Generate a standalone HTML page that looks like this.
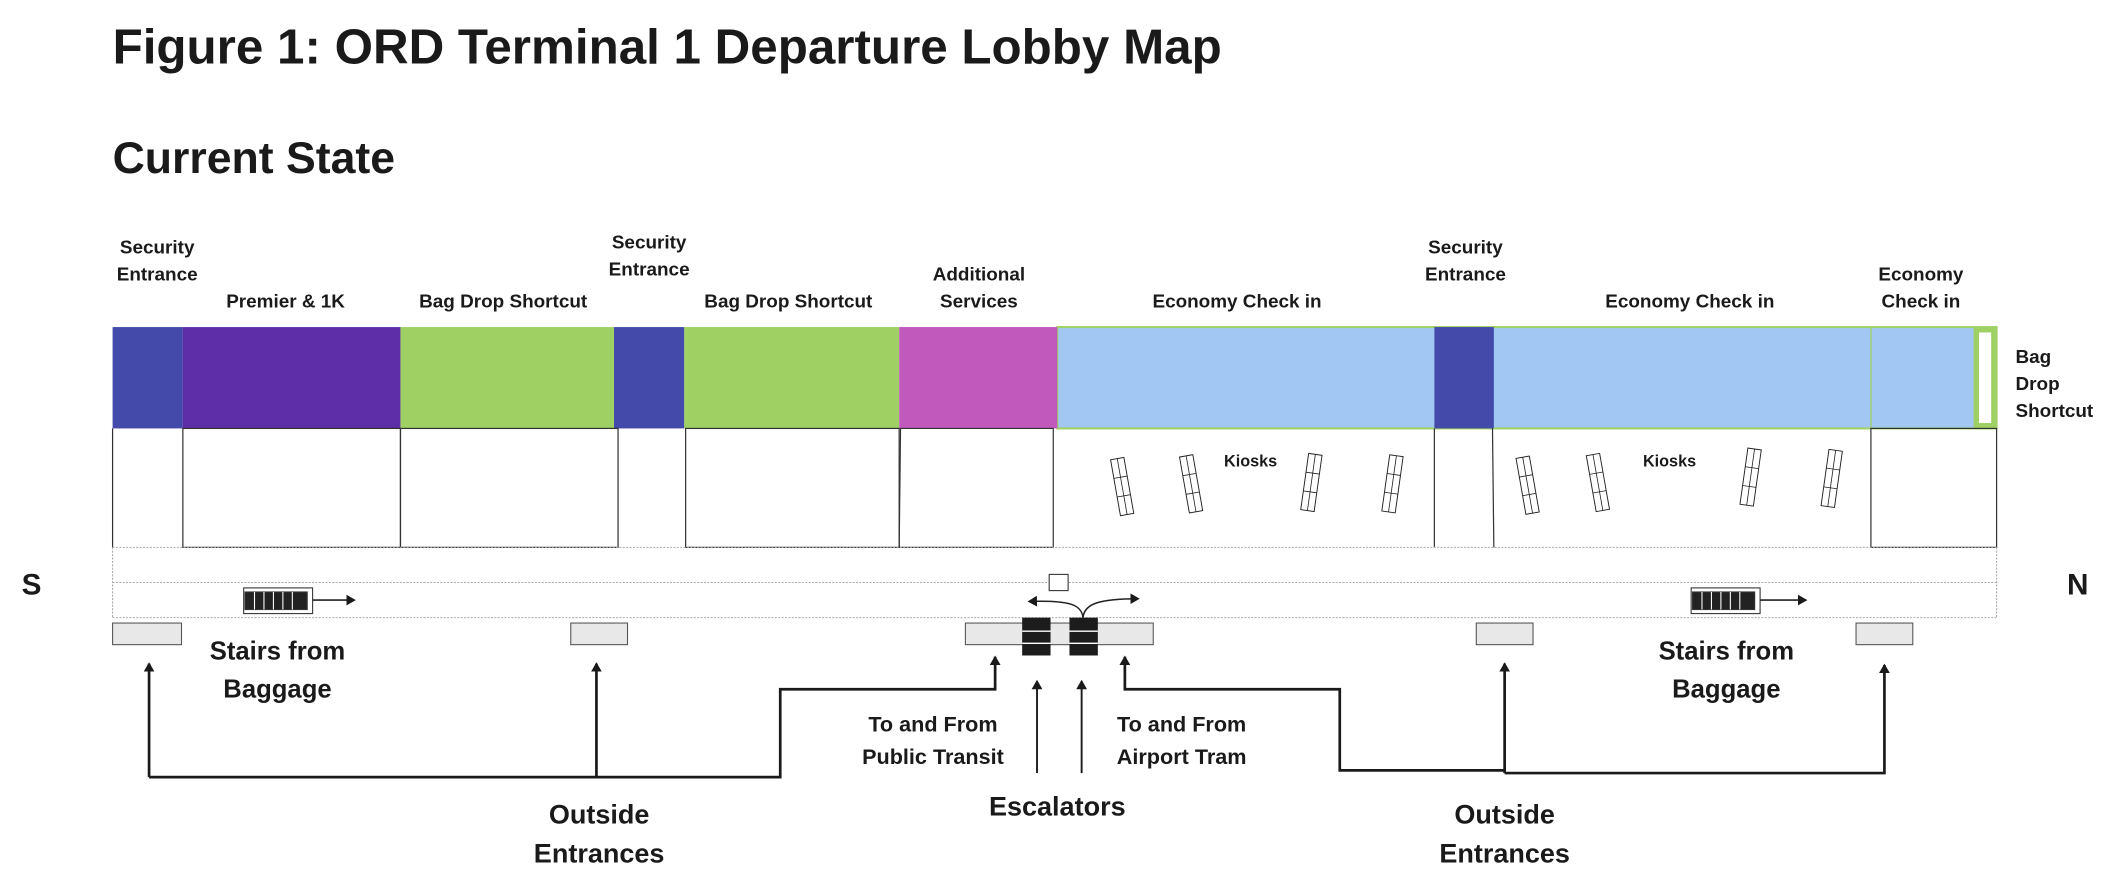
<!DOCTYPE html>
<html><head><meta charset="utf-8"><style>html,body{margin:0;padding:0;background:#fff}svg{display:block}</style></head><body>
<svg width="2120" height="892" viewBox="0 0 1568 660" xmlns="http://www.w3.org/2000/svg" font-family="Liberation Sans, sans-serif" font-weight="bold" fill="#1a1a1a">
<defs>
<marker id="ah" markerWidth="8" markerHeight="8" refX="6" refY="4" orient="auto-start-reverse" markerUnits="userSpaceOnUse"><path d="M0,0 L7,4 L0,8 Z" fill="#1a1a1a"/></marker>
<g id="kiosk"><rect x="-5" y="-21" width="10" height="42" fill="#fff" stroke="#222" stroke-width="0.7"/><line x1="0" y1="-21" x2="0" y2="21" stroke="#222" stroke-width="0.6"/><line x1="-5" y1="-7" x2="5" y2="-7" stroke="#222" stroke-width="0.6"/><line x1="-5" y1="7" x2="5" y2="7" stroke="#222" stroke-width="0.6"/></g>
</defs>
<text x="83" y="47" font-size="36.5">Figure 1: ORD Terminal 1 Departure Lobby Map</text>
<text x="83" y="128" font-size="33">Current State</text>
<g font-size="14" text-anchor="middle" dominant-baseline="middle">
<text x="116" y="184">Security</text><text x="116" y="204">Entrance</text>
<text x="211" y="224">Premier &amp; 1K</text>
<text x="372" y="224">Bag Drop Shortcut</text>
<text x="480" y="180">Security</text><text x="480" y="200">Entrance</text>
<text x="583" y="224">Bag Drop Shortcut</text>
<text x="724" y="204">Additional</text><text x="724" y="224">Services</text>
<text x="915" y="224">Economy Check in</text>
<text x="1084" y="184">Security</text><text x="1084" y="204">Entrance</text>
<text x="1250" y="224">Economy Check in</text>
<text x="1421" y="204">Economy</text><text x="1421" y="224">Check in</text>
<text x="1491" y="265" text-anchor="start">Bag</text><text x="1491" y="285" text-anchor="start">Drop</text><text x="1491" y="305" text-anchor="start">Shortcut</text>
</g>
<rect x="782" y="242" width="695" height="75" fill="#a2c7f2" stroke="#9fd064" stroke-width="1.5"/>
<rect x="83" y="242" width="52" height="75" fill="#434aa9"/>
<rect x="135" y="242" width="161" height="75" fill="#5e2ea9"/>
<rect x="296" y="242" width="158" height="75" fill="#9fd064"/>
<rect x="454" y="242" width="52" height="75" fill="#434aa9"/>
<rect x="506" y="242" width="159" height="75" fill="#9fd064"/>
<rect x="665" y="242" width="117" height="75" fill="#c158bc"/>
<rect x="1061" y="242" width="44" height="75" fill="#434aa9"/>
<line x1="1384" y1="242" x2="1384" y2="317" stroke="#9fd064" stroke-width="1"/>
<rect x="1462" y="244" width="13" height="71" fill="#fff" stroke="#9fd064" stroke-width="4"/>
<g fill="none" stroke="#333" stroke-width="0.9">
<rect x="135" y="317" width="161" height="88"/><rect x="296" y="317" width="161" height="88"/>
<rect x="507" y="317" width="158" height="88"/>
<path d="M666,317 L779,317 L779,405 L665,405 Z"/>
<rect x="1384" y="317" width="93" height="88"/>
<line x1="83" y1="317" x2="83" y2="405"/>
<line x1="1061" y1="317" x2="1061" y2="405"/><line x1="1104" y1="317" x2="1105" y2="405"/>
</g>
<g fill="none" stroke="#aaa" stroke-width="0.8" stroke-dasharray="1.5,1">
<line x1="83" y1="405" x2="1477" y2="405"/><line x1="83" y1="431" x2="1477" y2="431"/><line x1="83" y1="457" x2="1477" y2="457"/>
<line x1="83" y1="405" x2="83" y2="457"/><line x1="1477" y1="405" x2="1477" y2="457"/>
</g>
<text x="23" y="440" font-size="22" text-anchor="middle">S</text>
<text x="1537" y="440" font-size="22" text-anchor="middle">N</text>
<g font-size="12" text-anchor="middle"><text x="925" y="345">Kiosks</text><text x="1235" y="345">Kiosks</text></g>
<use href="#kiosk" transform="translate(830,360) rotate(-10)"/>
<use href="#kiosk" transform="translate(881,358) rotate(-10)"/>
<use href="#kiosk" transform="translate(970,357) rotate(8)"/>
<use href="#kiosk" transform="translate(1030,358) rotate(8)"/>
<use href="#kiosk" transform="translate(1130,359) rotate(-10)"/>
<use href="#kiosk" transform="translate(1182,357) rotate(-10)"/>
<use href="#kiosk" transform="translate(1295,353) rotate(8)"/>
<use href="#kiosk" transform="translate(1355,354) rotate(8)"/>
<g stroke="#333" stroke-width="0.8">
<rect x="180" y="435" width="51" height="19" fill="#fff"/><rect x="181" y="438" width="46" height="13" fill="#222"/>
<rect x="1251" y="435" width="51" height="19" fill="#fff"/><rect x="1252" y="438" width="46" height="13" fill="#222"/>
</g>
<g stroke="#fff" stroke-width="0.8"><path d="M188,438v13M195,438v13M202,438v13M209,438v13M216,438v13M1259,438v13M1266,438v13M1273,438v13M1280,438v13M1287,438v13"/></g>
<g stroke="#222" stroke-width="1.2" fill="none">
<line x1="231" y1="444" x2="262" y2="444" marker-end="url(#ah)"/>
<line x1="1302" y1="444" x2="1336" y2="444" marker-end="url(#ah)"/>
</g>
<g fill="#e8e8e8" stroke="#555" stroke-width="0.8">
<rect x="83" y="461" width="51" height="16"/><rect x="422" y="461" width="42" height="16"/>
<rect x="714" y="461" width="139" height="16"/><rect x="1092" y="461" width="42" height="16"/><rect x="1373" y="461" width="42" height="16"/>
</g>
<rect x="756" y="457" width="21" height="28" fill="#1c1c1c"/><rect x="791" y="457" width="21" height="28" fill="#1c1c1c"/>
<g stroke="#fff" stroke-width="1"><path d="M756,467h21M756,476h21M791,467h21M791,476h21"/></g>
<rect x="776" y="425" width="14" height="12" fill="#fff" stroke="#333" stroke-width="0.8"/>
<g stroke="#222" stroke-width="1.1" fill="none">
<path d="M801,457 C800,447 790,444 761,445" marker-end="url(#ah)"/>
<path d="M801,457 C802,447 812,443 842,443" marker-end="url(#ah)"/>
</g>
<g stroke="#1a1a1a" stroke-width="2" fill="none">
<path d="M110,575 V491" marker-end="url(#ah)"/>
<path d="M110,575 H577 V510 H736 V486" marker-end="url(#ah)"/>
<path d="M441,575 V491" marker-end="url(#ah)"/>
<path d="M832,486 V510 H991 V570 H1113" marker-start="url(#ah)"/>
<path d="M1113,572 V491" marker-end="url(#ah)"/>
<path d="M1113,572 H1394 V492" marker-end="url(#ah)"/>
</g>
<g stroke="#1a1a1a" stroke-width="1.4" fill="none">
<path d="M767,572 V504" marker-end="url(#ah)"/><path d="M800,572 V504" marker-end="url(#ah)"/>
</g>
<g text-anchor="middle" dominant-baseline="middle">
<g font-size="19"><text x="205" y="483">Stairs from</text><text x="205" y="511">Baggage</text>
<text x="1277" y="483">Stairs from</text><text x="1277" y="511">Baggage</text></g>
<g font-size="16"><text x="690" y="537">To and From</text><text x="690" y="561">Public Transit</text>
<text x="874" y="537">To and From</text><text x="874" y="561">Airport Tram</text></g>
<g font-size="20"><text x="782" y="598">Escalators</text>
<text x="443" y="604">Outside</text><text x="443" y="633">Entrances</text>
<text x="1113" y="604">Outside</text><text x="1113" y="633">Entrances</text></g>
</g>
</svg>
</body></html>
